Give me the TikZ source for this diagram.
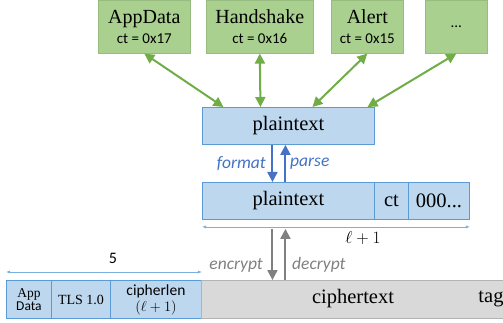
\documentclass[tikz,border=0pt]{standalone}
\usepackage{fontspec}
\setmainfont{Liberation Serif}
\setsansfont{Carlito}
\usetikzlibrary{arrows.meta}
\definecolor{boxgreen}{HTML}{A9D08E}
\definecolor{linegreen}{HTML}{70AD47}
\definecolor{boxblue}{HTML}{BDD7EE}
\definecolor{lineblue}{HTML}{5B9BD5}
\definecolor{arrowblue}{HTML}{4472C4}
\definecolor{boxgrey}{HTML}{D9D9D9}
\definecolor{arrowgrey}{HTML}{808080}

\begin{document}
\begin{tikzpicture}[x=1pt,y=-1pt,
  topbox/.style={draw=boxgreen!90!black,fill=boxgreen,line width=0.6pt,inner sep=0pt,
    minimum height=53pt,anchor=north west,align=center,font=\fontsize{20}{22}\selectfont},
  fieldbox/.style={draw=lineblue,fill=boxblue,line width=0.9pt,inner sep=0pt,
    minimum height=37pt,anchor=north west,align=center,font=\fontsize{20.5}{22}\selectfont},
  hdrbox/.style={fieldbox,minimum height=38pt},
  bigtext/.style={inner sep=0pt,font=\fontsize{20.5}{22}\selectfont},
  sublabel/.style={font=\sffamily\fontsize{16}{18}\selectfont},
  greenarrow/.style={{Triangle[length=10pt,width=10pt]}-{Triangle[length=10pt,width=10pt]},
    draw=linegreen,line width=2pt},
  bluearrow/.style={-{Triangle[length=10pt,width=10pt]},draw=arrowblue,line width=2pt},
  greyarrow/.style={-{Triangle[length=10pt,width=10pt]},draw=arrowgrey,line width=2pt},
  dimline/.style={{Latex[length=4pt,width=3pt]}-{Latex[length=4pt,width=3pt]},
    draw=lineblue!80,line width=0.6pt},
  steplabel/.style={inner sep=1pt,font=\sffamily\itshape\fontsize{17.5}{19}\selectfont}]
\useasboundingbox (0,0) rectangle (503,323);
\clip (0,0) rectangle (503,323);

\node [topbox,minimum width=92pt] (app) at (98,0)
  {AppData\\[-2pt]{\sffamily\fontsize{15}{18}\selectfont ct = 0x17}};
\node [topbox,minimum width=107pt] (hs) at (206,0)
  {Handshake\\[-2pt]{\sffamily\fontsize{15}{18}\selectfont ct = 0x16}};
\node [topbox,minimum width=72pt] (alert) at (331,0)
  {Alert\\[-2pt]{\sffamily\fontsize{15}{18}\selectfont ct = 0x15}};
\node [topbox,minimum width=62pt] (more) at (425,0)
  {\sffamily\fontsize{15}{18}\selectfont ...};

\node [fieldbox,minimum width=172pt] (pt) at (202,107) {plaintext};

\draw [greenarrow] (app.south) -- ([xshift=-65pt]pt.north);
\draw [greenarrow] (hs.south) -- ([xshift=-28pt]pt.north);
\draw [greenarrow] (alert.south) -- ([xshift=24pt]pt.north);
\draw [greenarrow] (more.south) -- ([xshift=79pt]pt.north);

\node [fieldbox,minimum width=172pt] (inner) at (202,182) {plaintext};
\node [fieldbox,minimum width=34pt] (ct) at (374,182) {ct};
\node [fieldbox,minimum width=61pt] (pad) at (408,182) {000...};

\draw [bluearrow] ([xshift=-16pt]pt.south) -- ([xshift=-16pt]inner.north);
\draw [bluearrow] ([xshift=-3pt]inner.north) -- ([xshift=-3pt]pt.south);
\node [steplabel,text=arrowblue,anchor=east] (format) at (267,164) {format};
\node [steplabel,text=arrowblue,anchor=west] (parse) at (289,164) {parse};

\draw [dimline] ([yshift=-7pt]inner.south west) -- ([yshift=-7pt]pad.south east);
\node [sublabel] (innerlen) at (363,238) {$\ell+1$};

\node [hdrbox,minimum width=45pt,font=\fontsize{13.5}{16}\selectfont] (type) at (6,280)
  {App\\[-3pt]{\sffamily Data}};
\node [hdrbox,minimum width=59pt,font=\fontsize{14}{16}\selectfont] (ver) at (51,280) {TLS 1.0};
\node [hdrbox,minimum width=91pt,font=\sffamily\fontsize{15.5}{17}\selectfont] (clen) at (110,280)
  {cipherlen\\[-1pt]$(\ell+1)$};
\node [draw=arrowgrey!60,fill=boxgrey,line width=0.6pt,inner sep=0pt,minimum height=38pt,
  minimum width=320pt,anchor=north west] (rec) at (201,280) {};
\node [bigtext] (ctext) at (353,299) {ciphertext};
\node [bigtext] (tag) at (491,299) {tag};

\draw [dimline] ([yshift=8pt]type.north west) -- ([yshift=8pt]clen.north east);
\node [sublabel] (hdrlen) at (113,258) {5};

\draw [greyarrow] ([xshift=-16pt,yshift=-9pt]inner.south) -- ([xshift=-16pt]inner.south |- rec.north);
\draw [greyarrow] ([xshift=-3pt]inner.south |- rec.north) -- ([xshift=-3pt,yshift=-9pt]inner.south);
\node [steplabel,text=arrowgrey,anchor=east] (encrypt) at (264,265) {encrypt};
\node [steplabel,text=arrowgrey,anchor=west] (decrypt) at (291,265) {decrypt};
\end{tikzpicture}
\end{document}
